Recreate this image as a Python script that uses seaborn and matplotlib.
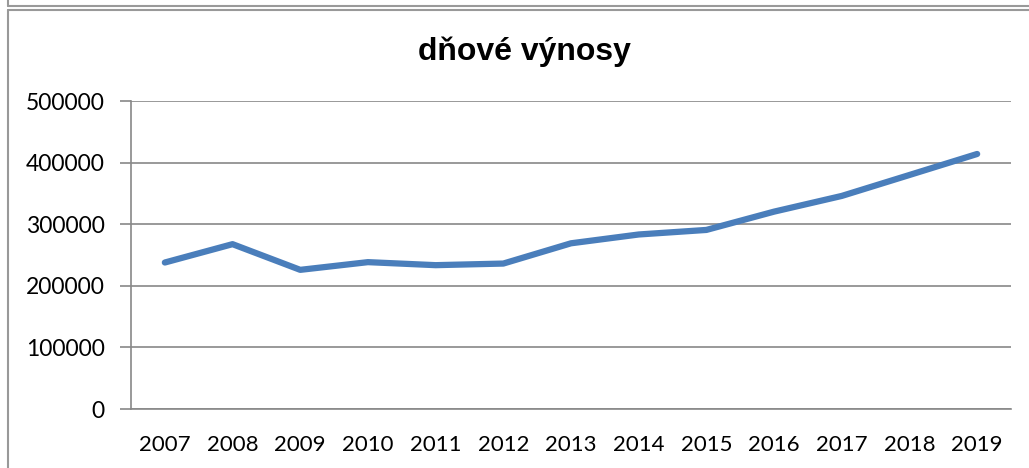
import seaborn as sns
import matplotlib.pyplot as plt
import pandas as pd
from matplotlib.lines import Line2D

years = ['2007', '2008', '2009', '2010', '2011', '2012', '2013',
         '2014', '2015', '2016', '2017', '2018', '2019']
vynosy = [237800, 267600, 225900, 238400, 233500, 236100, 269000,
          283300, 290700, 320400, 345900, 379900, 414000]
y_ticks = [0, 100000, 200000, 300000, 400000, 500000]

df = pd.DataFrame({'rok': years, 'vynosy': vynosy})

sns.set_style('white')
plt.rcParams['font.family'] = ['Lato', 'DejaVu Sans']
plt.rcParams['text.color'] = 'black'
plt.rcParams['xtick.labelcolor'] = 'black'
plt.rcParams['ytick.labelcolor'] = 'black'

fig = plt.figure(figsize=(10.29, 4.68), dpi=100)
ax = fig.add_axes([131 / 1029, 59 / 468, 880 / 1029, 308 / 468])

sns.lineplot(data=df, x='rok', y='vynosy', ax=ax, color='#4a7ebb',
             linewidth=4.5, solid_capstyle='round', solid_joinstyle='round')

ax.set_xlim(-0.5, len(years) - 0.5)
ax.set_ylim(0, 500000)
ax.set_yticks(y_ticks)
ax.set_yticklabels([str(v) for v in y_ticks])
ax.grid(axis='y', color='#888888', linewidth=1.2)
ax.set_axisbelow(True)

# category ticks sit between the labels
ax.set_xticks(range(len(years)))
ax.set_xticklabels(years)
ax.tick_params(axis='x', length=0, pad=19, labelsize=16, labelcolor='black')
ax.set_xticks([i - 0.5 for i in range(len(years) + 1)], minor=True)
ax.tick_params(axis='x', which='minor', length=8, width=1.2, color='#888888',
               direction='out')
ax.tick_params(axis='y', length=8, width=1.2, color='#888888', pad=11,
               labelsize=16.5, left=True, labelcolor='black')

for s in ['top', 'right']:
    ax.spines[s].set_visible(False)
for s in ['left', 'bottom']:
    ax.spines[s].set_color('#888888')
    ax.spines[s].set_linewidth(1.2)

ax.set_xlabel('')
ax.set_ylabel('')

fig.text(524 / 1029, 1 - 52 / 468, 'dňové výnosy', ha='center', va='center',
         fontsize=23, fontweight='bold', color='black',
         family=['Liberation Sans', 'DejaVu Sans'])

# outer frame lines like the sheet's chart boxes
frame = dict(color='#999999', linewidth=1.5, transform=fig.transFigure)
fig.add_artist(Line2D([8 / 1029, 1], [1 - 6 / 468, 1 - 6 / 468], **frame))
fig.add_artist(Line2D([8 / 1029, 8 / 1029], [1, 1 - 6 / 468], **frame))
fig.add_artist(Line2D([8 / 1029, 1], [1 - 10 / 468, 1 - 10 / 468], **frame))
fig.add_artist(Line2D([8 / 1029, 8 / 1029], [1 - 10 / 468, 0], **frame))

fig.savefig('out.png', dpi=100)
